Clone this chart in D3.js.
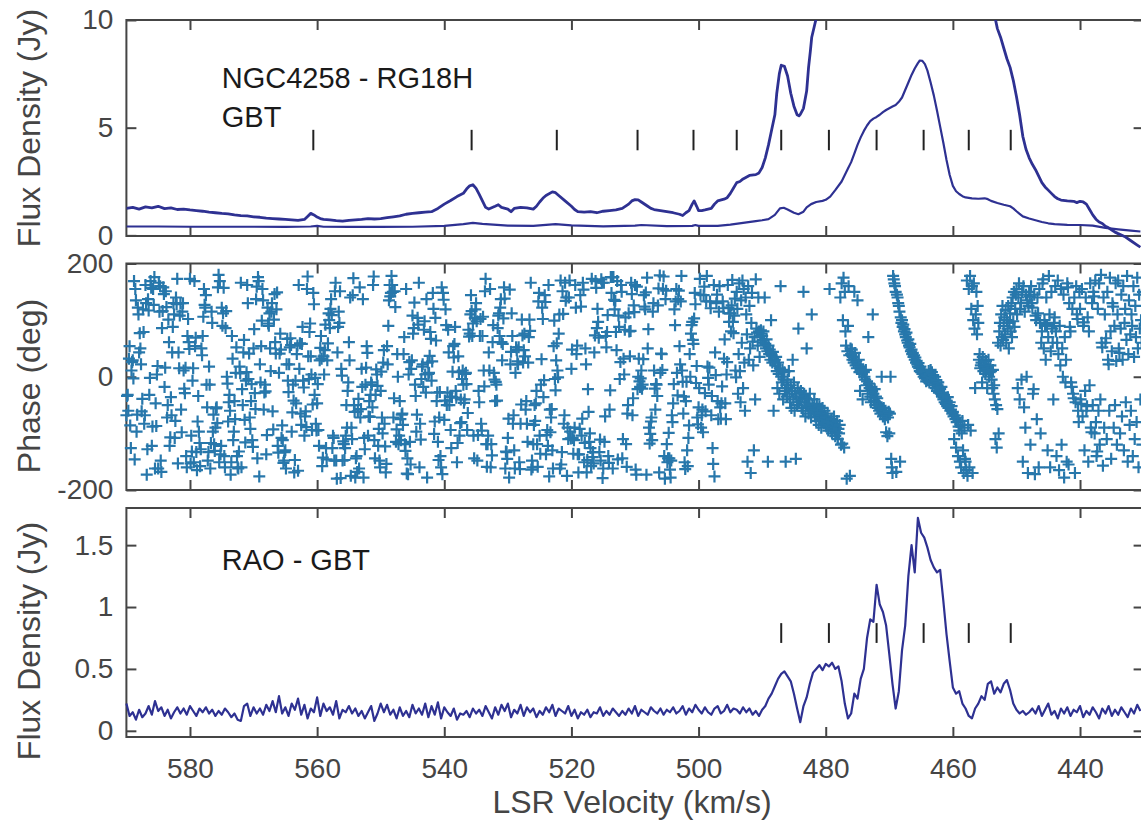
<!DOCTYPE html>
<html>
<head>
<meta charset="utf-8">
<script src="https://cdn.jsdelivr.net/npm/d3@7"></script>
<style>
  body { margin: 0; background: #fff; }
  svg { display: block; }
</style>
</head>
<body>
<script>
// ---- top panel: GBT total power spectrum and RG18H spectrum (velocity km/s, flux Jy)
const gbtVel = [590, 589, 588, 587, 586, 585, 584, 583, 582, 581, 580, 579, 578, 577, 576, 575, 574, 573, 572, 571,
  570, 569, 568, 567, 566, 565, 564, 563, 562, 561.5, 561, 560.5, 560, 559.5, 559, 558, 557, 556, 555, 554,
  553, 552, 551, 550, 549, 548, 547, 546, 545, 544, 543, 542, 541, 540, 539, 538, 537, 536.5, 536, 535.5,
  535, 534.5, 534, 533.5, 533, 532, 531.5, 531, 530, 529.5, 529, 528, 527, 526, 525.5, 525, 524.5, 524, 523, 522.5,
  522, 521, 520, 519.5, 519, 518, 517, 516, 515, 514, 513, 512, 511, 510.5, 510, 509.5, 509, 508, 507.5, 507,
  506, 505, 504, 503, 502.5, 502, 501.5, 501, 500.7, 500.3, 500, 499.5, 499, 498, 497.5, 497, 496, 495.5, 495, 494.5,
  494, 493.5, 493, 492, 491, 490.5, 490, 489.5, 489, 488.5, 488, 487.7, 487.3, 487, 486.5, 486, 485.5, 485, 484.5, 484.2,
  484, 483.5, 483, 482.7, 482.4, 482.2, 481.8, 481.4, 481, 480, 478, 476, 474, 472, 470, 468, 466, 464, 462, 460,
  458, 456, 454, 453.5, 453, 452.5, 452, 451.5, 451, 450.5, 450, 449.5, 449, 448.5, 448, 447.5, 447, 446.5, 446, 445.5,
  445, 444.5, 444, 443.5, 443, 442, 441, 440.5, 440, 439.5, 439, 438.5, 438, 437.5, 437, 436.5, 436, 435.5, 435, 434.5,
  434, 433, 432, 431, 430.5];
const gbtFlux = [1.25, 1.30, 1.22, 1.32, 1.28, 1.35, 1.24, 1.28, 1.20, 1.22, 1.18, 1.15, 1.12, 1.08, 1.05, 1.02, 1.00, 0.95, 0.92, 0.90,
  0.86, 0.84, 0.80, 0.78, 0.76, 0.74, 0.72, 0.70, 0.74, 0.88, 1.02, 0.95, 0.85, 0.78, 0.74, 0.72, 0.68, 0.66, 0.70, 0.72,
  0.74, 0.78, 0.76, 0.78, 0.82, 0.86, 0.90, 0.98, 1.02, 1.05, 1.08, 1.10, 1.25, 1.45, 1.62, 1.80, 1.95, 2.15, 2.30, 2.35,
  2.18, 1.90, 1.60, 1.30, 1.22, 1.35, 1.42, 1.30, 1.22, 1.10, 1.25, 1.30, 1.28, 1.22, 1.35, 1.55, 1.72, 1.85, 2.02, 1.98,
  1.85, 1.60, 1.35, 1.20, 1.10, 1.08, 1.10, 1.05, 1.12, 1.15, 1.18, 1.25, 1.45, 1.60, 1.66, 1.65, 1.55, 1.35, 1.25, 1.20,
  1.15, 1.10, 1.05, 0.98, 0.92, 1.05, 1.15, 1.45, 1.60, 1.35, 1.15, 1.15, 1.18, 1.25, 1.45, 1.60, 1.68, 1.75, 1.95, 2.20,
  2.45, 2.50, 2.62, 2.78, 2.82, 2.90, 3.15, 3.60, 4.20, 4.90, 5.60, 6.60, 7.50, 7.90, 7.85, 7.40, 6.60, 6.00, 5.60, 5.55,
  5.62, 5.90, 6.70, 7.80, 8.60, 9.20, 9.70, 10.2, 10.6, 11.5, 13, 15, 17, 19, 21, 22.5, 24, 24, 22, 19,
  16, 13, 11, 10.3, 9.6, 9.2, 8.7, 8.2, 7.8, 7.2, 6.45, 5.6, 4.6, 4.0, 3.6, 3.3, 3.05, 2.75, 2.45, 2.25,
  2.10, 1.95, 1.80, 1.70, 1.64, 1.60, 1.58, 1.52, 1.58, 1.55, 1.45, 1.20, 0.95, 0.75, 0.62, 0.55, 0.42, 0.35, 0.25, 0.15,
  0.08, -0.05, -0.25, -0.45, -0.55];

const rgVel = [590, 585, 580, 575, 570, 565, 561, 560, 559, 555, 550, 545, 540, 537, 535.5, 534, 530, 526, 522.5, 520,
  515, 510, 509, 505, 501, 500.5, 500, 497, 495, 493, 491, 490, 489, 488, 487.2, 486.6, 486, 485, 484.3, 483.5,
  483, 482.3, 481.5, 480.5, 480, 479.3, 478.5, 477.5, 477, 476.5, 476, 475.5, 475, 474.5, 474, 473.5, 473, 472.5, 472, 471.5,
  471, 470.5, 470, 469.5, 469, 468.5, 468, 467.5, 467, 466.5, 466, 465.5, 465.2, 464.8, 464.4, 464, 463.5, 463, 462.5, 462,
  461.5, 461, 460.5, 460, 459.5, 459, 458.5, 458, 457, 456, 455, 454.5, 454, 453, 452, 451, 450.5, 450, 449.5, 449,
  448, 447, 446, 445, 444, 442, 440, 438, 436, 434, 432, 430.5];
const rgFlux = [0.41, 0.41, 0.40, 0.40, 0.40, 0.39, 0.41, 0.44, 0.40, 0.39, 0.39, 0.40, 0.44, 0.52, 0.58, 0.53, 0.45, 0.44, 0.52, 0.46,
  0.42, 0.45, 0.48, 0.43, 0.44, 0.48, 0.44, 0.44, 0.50, 0.58, 0.66, 0.70, 0.75, 0.95, 1.25, 1.28, 1.20, 1.05, 0.98, 1.10,
  1.30, 1.45, 1.55, 1.60, 1.65, 1.80, 2.10, 2.50, 2.80, 3.10, 3.40, 3.80, 4.20, 4.55, 4.85, 5.10, 5.30, 5.42, 5.50, 5.60,
  5.72, 5.82, 5.90, 5.98, 6.05, 6.20, 6.40, 6.75, 7.10, 7.45, 7.75, 8.00, 8.12, 8.10, 7.95, 7.65, 7.10, 6.50, 5.80, 5.05,
  4.30, 3.50, 2.80, 2.30, 2.05, 1.92, 1.82, 1.76, 1.72, 1.70, 1.72, 1.68, 1.60, 1.50, 1.42, 1.35, 1.25, 1.12, 1.00, 0.88,
  0.78, 0.70, 0.62, 0.56, 0.52, 0.49, 0.48, 0.45, 0.35, 0.28, 0.22, 0.18];

// feature markers (km/s) drawn as short black bars
const markVel = [560.6, 535.7, 522.3, 509.6, 500.8, 494.0, 487.0, 479.5, 472.0, 464.6, 457.5, 450.9];
const markVelLow = [487.0, 479.5, 472.0, 464.6, 457.5, 450.9];
const markTopRange = [3.95, 4.9];
const markLowRange = [0.71, 0.87];

// ---- middle panel: phase (deg), one value per channel from 590 km/s in 0.1 km/s steps
const phaseStartVel = 590;
const phaseChanWidth = 0.1;
const phaseDeg = [
  -68, -34, -32, -60, 32, 54, -86, -126, 11, 26, 29, -3, 169, -146, 155, 135, -97, -67, 122, 110,
  43, 77, 50, 22, -61, -39, 119, 79, -83, -68, 162, 130, -173, -128, 137, 117, -32, -2, 169, 157,
  -122, -88, 155, 127, 176, -162, -47, -87, 4, 19, -162, 166, 115, 160, -148, -168, 86, 116, 158, 146,
  -18, 16, 151, 123, -72, -50, 101, 61, -122, -107, -36, -68, 43, 88, 130, 110, -108, -78, 140, 128,
  173, -153, 43, 15, 108, 130, -58, -98, 115, 130, 11, -21, -29, 16, -140, -160, 72, 102, 61, 49,
  173, -153, -104, -132, -7, 15, -151, 169, 54, 69, -133, -165, -79, -34, -97, -117, -158, -128, 50, 38,
  72, 106, 155, 127, 122, 144, -14, -54, -148, -133, 18, -14, -162, -117, 115, 95, -97, -67, -119, -131,
  -90, -56, -54, -82, 158, 180, -151, 169, -137, -122, 122, 90, 112, 157, -140, -160, 86, 116, 0, -12,
  -79, -45, -32, -60, -173, -151, 72, 32, -112, -97, -43, -75, 7, 52, -140, -160, -162, -132, 18, 6,
  166, -160, -22, -50, 43, 65, -76, -116, -7, 8, 162, 130, -4, 41, -72, -92, -43, -13, -112, -124,
  50, 84, -29, -57, 137, 159, -144, 176, 169, -176, 22, -10, 54, 99, 155, 135, -58, -28, -14, -26,
  -137, -103, 122, 94, 90, 112, 50, 10, 115, 130, -61, -93, 101, 146, 61, 41, 119, 149, -122, -134,
  7, 41, 76, 48, -108, -86, -112, -152, -148, -133, -130, -162, 22, 67, -7, -27, 22, 52, 68, 56,
  -97, -63, -14, -42, -169, -147, -7, -47, 40, 55, -166, 162, 14, 59, -65, -85, 58, 88, -7, -19,
  -104, -70, -61, -89, 155, 177, 36, -4, 79, 94, 36, 4, -94, -49, 148, 128, -32, -2, -83, -95,
  -47, -13, -94, -122, 29, 51, 72, 32, -158, -143, 36, 4, 47, 92, -126, -146, 29, 59, 112, 100,
  86, 120, 137, 109, -126, -104, -108, -148, 151, 166, -148, -180, 43, 88, 115, 95, 151, -179, 14, 2,
  -148, -114, -119, -147, -126, -104, -50, -90, -25, -10, 61, 29, 140, -175, -90, -110, 144, 174, -50, -62,
  -178, -144, -140, -168, -61, -39, -162, 158, -72, -57, 14, -18, 137, -178, -108, -128, -14, 16, 54, 42,
  -104, -70, -43, -71, -32, -10, -14, -54, 162, 177, -112, -144, -32, 13, 4, -16, -122, -92, -148, -160,
  -25, 9, -72, -100, 25, 47, -83, -123, -169, -154, 54, 22, 90, 135, 162, 142, 148, 178, 162, 150,
  -72, -38, 151, 123, -115, -93, 40, 0, -119, -104, -43, -75, -112, -67, -65, -85, 40, 70, -119, -131,
  155, -171, -144, -172, 4, 26, -115, -155, 14, 29, 108, 76, 86, 131, -14, -34, -97, -67, 104, 92,
  166, -160, -83, -111, -4, 18, 22, -18, 83, 98, 4, -28, 137, -178, 25, 5, 7, 37, 79, 67,
  -7, 27, 148, 120, -101, -79, 104, 64, -43, -28, -115, -147, -72, -27, -140, -160, 158, -172, 148, 136,
  -76, -42, 119, 91, -50, -28, 83, 43, -50, -35, -94, -126, -36, 9, 54, 34, 58, 88, -25, -37,
  -151, -117, 36, 8, -104, -82, -40, -80, -4, 11, -14, -46, -40, 5, 7, -13, -94, -64, 83, 71,
  76, 110, 144, 116, 72, 94, -104, -144, 104, 119, 130, 98, -148, -103, -25, -45, 72, 102, -83, -95,
  72, 106, 11, -17, 151, 173, -119, -159, -119, -104, 43, 11, 155, -160, -119, -139, 61, 91, 7, -5,
  -43, -9, -14, -42, 86, 108, 112, 72, 122, 137, 61, 29, 58, 103, 158, 138, -162, -132, -133, -145,
  -108, -74, -178, 154, 22, 44, 112, 72, -83, -68, -130, -162, 7, 52, 47, 27, 22, 52, -151, -163,
  -83, -49, 101, 73, 25, 47, 76, 36, -58, -43, -83, -115, 25, 70, 101, 81, 166, -164, -148, -160,
  -119, -85, -50, -78, -47, -25, -119, -159, 133, 148, -104, -136, -14, 31, 122, 102, -36, -6, 144, 132,
  -137, -103, -94, -122, 162, -176, -58, -98, -72, -57, -130, -162, 54, 99, -4, -24, 29, 59, 11, -1,
  76, 110, -162, 170, -155, -133, 151, 111, -83, -68, 166, 134, 140, -175, -90, -110, 140, 170, -97, -109,
  14, 48, -108, -136, -112, -90, 162, 122, 40, 55, -137, -169, -137, -92, 144, 124, -104, -74, 166, 154,
  -151, -117, 50, 22, -169, -147, -22, -62, -115, -100, -126, -158, 173, -142, -133, -153, 43, 73, 169, 157,
  86, 120, 97, 69, -133, -111, -148, 172, 166, -179, -162, 166, -115, -70, 72, 52, 79, 109, -140, -152,
  -58, -24, 176, 148, 176, -162, 176, 136, 119, 134, 79, 47, 169, -146, 108, 88, -4, 26, 162, 150,
  -144, -110, 32, 4, 83, 105, -119, -159, -65, -50, 112, 80, 36, 81, 166, 146, -68, -38, 126, 114,
  162, -164, -173, 159, -22, 0, 32, -8, -18, -3, 11, -21, -14, 31, 144, 124, 119, 149, -173, 175,
  50, 84, -90, -118, -101, -79, -72, -112, 115, 130, 11, -21, -58, -13, -14, -34, 126, 156, -169, 179,
  7, 41, 40, 12, 155, 177, -140, -180, 137, 152, -119, -151, -144, -99, -144, -164, -178, -148, -68, -80,
  -47, -13, 119, 91, 133, 155, 7, -33, 137, 152, 54, 22, 133, 178, 11, -9, -65, -35, -151, -163,
  -43, -9, -130, -158, -108, -86, 40, 0, 76, 91, 97, 65, 58, 103, 148, 128, -11, 19, -72, -84,
  -54, -20, 173, 145, -90, -68, -58, -98, 144, 159, -29, -61, 133, 178, 18, -2, -14, 16, 133, 121,
  -68, -34, -126, -154, 162, -176, 43, 3, 130, 145, -43, -75, 115, 160, -54, -74, -47, -17, 133, 121,
  32, 66, -47, -75, 4, 26, 162, 122, 97, 112, 112, 80, 126, 171, 97, 77, 108, 138, 11, -1,
  150, 120, -30, 40, 165, 10, -45, 135, 60, 170, -20, 155, 25, -60, 140, 110, 75, -150, 160, 30,
  125, 50, -170, 95, 148, 62, 20, -130, 70, -40, 172, 85, 78, 55, 140, 80, 35, 72, 82, 76,
  72, 65, 80, 60, 140, 58, 50, 66, 45, -150, 55, 40, 48, 30, 100, 38, 25, 44, -60, 28,
  30, 20, 35, 10, -20, 25, 5, -30, 15, 160, 0, -10, 12, -40, -5, 8, -25, -150, -15, -35,
  -5, -20, 10, -30, -45, -15, -55, -25, 30, -40, -10, -60, -30, -145, -35, -50, -20, 85, -45, -28,
  -40, -25, -55, -35, -60, 150, -30, -45, -70, -38, 50, -52, -40, -65, -48, -30, -58, -72, 110, -50,
  -55, -62, -40, -70, -58, -78, -48, -66, -60, -85, -52, -72, -64, -90, -68, -55, -75, -82, -60, -70,
  -72, -88, -78, -65, -95, -80, 155, -85, -92, -75, -100, -82, -88, -70, -95, -105, -90, -98, -78, -110,
  -92, -100, -85, 140, -120, 165, -118, 100, 175, -125, 150, 80, 55, -180, 45, 90, 160, 38, -175, 50,
  40, 48, 30, 35, 25, 150, 42, 20, 28, 15, 135, 22, 30, 8, -25, 18, 12, 5, -40, 10,
  8, 0, -5, 12, -15, -8, -30, 70, -12, -20, -35, -45, -18, -25, 110, -30, -42, -22, -50, -35,
  -45, -38, -55, -48, -60, -52, -65, -58, 0, -62, -70, -55, -66, -75, -60, -98, -68, -105, -72, -62,
  -100, -65, 0, -145, -160, -170, 178, 172, 165, 160, 150, -168, 145, 140, 130, 125, 115, -150, 105, 95,
  100, 88, 92, 80, 84, 75, 70, 78, 64, 60, 66, 55, 52, 58, 45, 48, 40, 42, 35, 38,
  30, 34, 25, 28, 22, 18, 24, 15, 10, 18, 8, 12, 5, 10, 0, 8, -3, 4, -8, 2,
  -5, 0, 10, -10, 5, 12, -2, 8, -15, 3, -8, -12, 0, -20, -6, -25, -15, -10, -28, -20,
  -22, -30, -18, -35, -28, -40, -32, -45, -38, -48, -42, -52, -36, -55, -50, -45, -60, -58, -52, -65,
  -62, -70, -110, -68, -75, -125, -80, -72, -140, -88, -95, -150, -85, -160, -100, -78, -130, -170, -90, -145,
  -150, -165, 170, -175, -85, 155, -160, 178, -95, 120, 160, -170, 100, 165, 85, -20, 110, 150, 75, 125,
  95, 30, 40, 15, 20, 25, -10, 35, 10, 18, 22, 5, 28, 12, -20, 15, 30, 0, 8, 20,
  10, -5, -20, 12, -30, -15, -40, -110, -50, -125, -57, 60, -100, 80, 95, 55, 110, 70, 125, 65,
  90, 105, 75, 118, 60, 100, 85, 125, 50, 95, 112, 80, 130, 70, 140, 98, 150, 88, 120, 145,
  155, 110, -20, 140, 165, -40, 120, 130, -5, 150, -150, 160, -54, 115, -90, 145, 0, 135, -170, 125,
  150, 142, -120, 160, 130, 122, -30, -22, 145, -172, 108, 100, -75, 140, 112, -160, 155, 95, -100, 60,
  80, 165, 172, 50, 100, 92, 30, 140, 90, -130, 70, 178, 110, -160, 45, 150, 85, 60, -40, 95,
  105, 160, 80, -140, 60, 170, 40, -165, 90, 20, 155, -120, 50, 0, 145, -178, 70, -10, 30, -150,
  165, 158, -155, 130, 88, 80, -10, -18, 120, -30, -38, 140, -170, -45, 160, 110, 102, -60, -80, 150,
  120, -40, -48, 155, -70, 90, 96, -130, -25, 140, -60, -52, 105, -150, 80, -15, 165, -90, -98, 130,
  -50, 150, 142, -100, 170, -80, -140, -132, 120, -60, 165, -120, -40, 180, 60, 52, -157, 140, -90, 110,
  60, 68, -110, 150, 30, 22, -60, 175, 80, -145, 45, 130, 124, -90, 90, -50, 165, 28, -120, 110,
  170, 50, 42, -100, 85, 145, -70, 30, 160, -130, 95, 120, -45, 65, 178, -150, 40, 135, -85, 75,
  -60, 110, 90, -140, 160, 35, -110, 125, 70, -80, 175, 50, -160, 145, 85, -40, 100, 60, -120, 150
];

// ---- bottom panel: RAO - GBT flux (Jy), channels from 590 km/s in 0.5 km/s steps
const raoStartVel = 590;
const raoChanWidth = 0.5;
const raoFlux = [
  0.22, 0.12, 0.15, 0.09, 0.17, 0.11, 0.14, 0.20, 0.13, 0.24, 0.16, 0.19,
  0.12, 0.17, 0.10, 0.15, 0.19, 0.14, 0.18, 0.13, 0.20, 0.16, 0.12, 0.18,
  0.15, 0.19, 0.14, 0.17, 0.12, 0.16, 0.13, 0.18, 0.15, 0.11, 0.14, 0.09,
  0.08, 0.20, 0.22, 0.12, 0.19, 0.14, 0.18, 0.13, 0.21, 0.16, 0.24, 0.15,
  0.28, 0.14, 0.19, 0.12, 0.22, 0.17, 0.26, 0.13, 0.21, 0.10, 0.18, 0.15,
  0.27, 0.12, 0.22, 0.16, 0.19, 0.13, 0.24, 0.10, 0.17, 0.15, 0.20, 0.14,
  0.18, 0.12, 0.16, 0.10, 0.15, 0.20, 0.08, 0.14, 0.22, 0.15, 0.21, 0.13,
  0.17, 0.10, 0.19, 0.12, 0.16, 0.11, 0.21, 0.14, 0.18, 0.13, 0.22, 0.11,
  0.20, 0.13, 0.23, 0.10, 0.19, 0.15, 0.12, 0.18, 0.09, 0.14, 0.13, 0.16,
  0.11, 0.18, 0.14, 0.17, 0.12, 0.20, 0.15, 0.10, 0.19, 0.13, 0.21, 0.16,
  0.22, 0.11, 0.17, 0.14, 0.21, 0.12, 0.19, 0.15, 0.18, 0.11, 0.16, 0.13,
  0.19, 0.15, 0.21, 0.12, 0.18, 0.16, 0.14, 0.20, 0.12, 0.17, 0.10, 0.15,
  0.13, 0.17, 0.11, 0.15, 0.14, 0.19, 0.12, 0.16, 0.13, 0.18, 0.15, 0.12,
  0.16, 0.13, 0.18, 0.14, 0.20, 0.12, 0.17, 0.15, 0.13, 0.19, 0.16, 0.14,
  0.18, 0.13, 0.17, 0.15, 0.19, 0.14, 0.16, 0.20, 0.13, 0.18, 0.15, 0.21,
  0.17, 0.14, 0.19, 0.15, 0.13, 0.18, 0.20, 0.14, 0.16, 0.21, 0.15, 0.18,
  // 494 .. 448 km/s
  0.17, 0.14, 0.19, 0.15, 0.18, 0.13, 0.16, 0.12, 0.17, 0.20,
  0.26, 0.30, 0.36, 0.42, 0.46, 0.48, 0.44, 0.40, 0.30, 0.18,
  0.07, 0.20, 0.27, 0.38, 0.47, 0.50, 0.53, 0.49, 0.54, 0.52,
  0.55, 0.50, 0.52, 0.40, 0.22, 0.10, 0.14, 0.30, 0.26, 0.42,
  0.50, 0.75, 0.90, 0.88, 1.18, 1.02, 0.96, 0.85, 0.62, 0.38,
  0.18, 0.32, 0.65, 0.85, 1.25, 1.50, 1.28, 1.72, 1.60, 1.56,
  1.48, 1.38, 1.32, 1.28, 1.30, 1.05, 0.78, 0.56, 0.35, 0.30,
  0.32, 0.22, 0.18, 0.12, 0.10, 0.18, 0.22, 0.28, 0.25, 0.38,
  0.40, 0.30, 0.35, 0.31, 0.38, 0.41, 0.33, 0.22, 0.17, 0.14,
  0.16, 0.13, 0.15,
  // 447.5 .. 430.5 km/s
  0.18, 0.14, 0.20, 0.12, 0.17, 0.22, 0.13, 0.16, 0.10, 0.18, 0.14, 0.19,
  0.12, 0.17, 0.15, 0.20, 0.11, 0.16, 0.13, 0.19, 0.15, 0.10, 0.18, 0.14,
  0.20, 0.12, 0.17, 0.13, 0.19, 0.15, 0.11, 0.18, 0.14, 0.21, 0.16
];

// ---- axis ticks and labels
const velTicks = [580, 560, 540, 520, 500, 480, 460, 440];
const fluxTopTicks = [0, 5, 10];
const phaseTicks = [-200, 0, 200];
const fluxLowTicks = [0, 0.5, 1, 1.5];

const width = 1141;
const height = 821;
const plotLeft = 126.4;
const plotRight = 1143.6;

const lineColor = "#2e3192";
const phaseColor = "#2777ab";
const axisColor = "#454545";

const svg = d3.select("body").append("svg")
    .attr("width", width)
    .attr("height", height)
    .attr("viewBox", [0, 0, width, height])
    .style("font-family", "'Liberation Sans', Arial, Helvetica, sans-serif");

const x = d3.scaleLinear().domain([590, 430]).range([plotLeft, plotRight]);

const panels = [
    { top: 20, bottom: 236, y: d3.scaleLinear().domain([-0.03, 10]).range([236, 20]), ticks: fluxTopTicks },
    { top: 263.5, bottom: 490, y: d3.scaleLinear().domain([-200, 200]).range([490, 263.5]), ticks: phaseTicks },
    { top: 508, bottom: 737, y: d3.scaleLinear().domain([-0.05, 1.8]).range([737, 508]), ticks: fluxLowTicks }
];

const defs = svg.append("defs");
defs.append("clipPath").attr("id", "clip-top")
    .append("rect")
    .attr("x", plotLeft).attr("y", panels[0].top)
    .attr("width", plotRight - plotLeft).attr("height", 232);

// Draw axes (box, inward ticks on all four sides)
panels.forEach((p, i) => {
    const g = svg.append("g");
    const isLast = i === panels.length - 1;

    g.append("g")
        .attr("transform", `translate(0,${p.bottom})`)
        .call(d3.axisBottom(x).tickValues(velTicks).tickSize(-10).tickPadding(21)
            .tickFormat(d => isLast ? String(d) : ""));
    g.append("g")
        .attr("transform", `translate(0,${p.top})`)
        .call(d3.axisTop(x).tickValues(velTicks).tickSize(-10).tickFormat(""));
    g.append("g")
        .attr("transform", `translate(${plotLeft},0)`)
        .call(d3.axisLeft(p.y).tickValues(p.ticks).tickSize(-10).tickPadding(13)
            .tickFormat(d => String(d)));
    g.append("g")
        .attr("transform", `translate(${plotRight},0)`)
        .call(d3.axisRight(p.y).tickValues(p.ticks).tickSize(-10).tickFormat(""));

    g.selectAll(".domain").remove();
    g.selectAll(".tick line").attr("stroke", axisColor).attr("stroke-width", 2);
    g.selectAll(".tick text").attr("fill", axisColor).attr("font-size", 28);

    g.append("rect")
        .attr("x", plotLeft).attr("y", p.top)
        .attr("width", plotRight - plotLeft).attr("height", p.bottom - p.top)
        .attr("fill", "none").attr("stroke", axisColor).attr("stroke-width", 2);
});

// Top panel spectra
const yTop = panels[0].y;
const lineTop = d3.line().x(d => x(d[0])).y(d => yTop(d[1]));
const topG = svg.append("g").attr("clip-path", "url(#clip-top)");
topG.append("path")
    .attr("d", lineTop(d3.zip(rgVel, rgFlux)))
    .attr("fill", "none").attr("stroke", lineColor).attr("stroke-width", 2.2)
    .attr("stroke-linejoin", "round");
topG.append("path")
    .attr("d", lineTop(d3.zip(gbtVel, gbtFlux)))
    .attr("fill", "none").attr("stroke", lineColor).attr("stroke-width", 2.8)
    .attr("stroke-linejoin", "round");

// feature markers
svg.append("g").selectAll("line")
    .data(markVel)
    .join("line")
    .attr("x1", d => x(d)).attr("x2", d => x(d))
    .attr("y1", yTop(markTopRange[0])).attr("y2", yTop(markTopRange[1]))
    .attr("stroke", "#222").attr("stroke-width", 2);

// Middle panel: phase scatter
const yPh = panels[1].y;
svg.append("g").selectAll("path")
    .data(phaseDeg)
    .join("path")
    .attr("transform", (d, i) => `translate(${x(phaseStartVel - i * phaseChanWidth)},${yPh(d)})`)
    .attr("d", "M-6,0H6M0,-6V6")
    .attr("stroke", phaseColor).attr("stroke-width", 2.2).attr("fill", "none");

// Bottom panel spectrum
const yLow = panels[2].y;
const lineLow = d3.line()
    .x((d, i) => x(raoStartVel - i * raoChanWidth))
    .y(d => yLow(d));
svg.append("path")
    .attr("d", lineLow(raoFlux))
    .attr("fill", "none").attr("stroke", lineColor).attr("stroke-width", 2.2)
    .attr("stroke-linejoin", "round");

svg.append("g").selectAll("line")
    .data(markVelLow)
    .join("line")
    .attr("x1", d => x(d)).attr("x2", d => x(d))
    .attr("y1", yLow(markLowRange[0])).attr("y2", yLow(markLowRange[1]))
    .attr("stroke", "#222").attr("stroke-width", 2);

// Labels
const note = (txt, v, yv, scale) => svg.append("text")
    .attr("x", x(v)).attr("y", scale(yv))
    .attr("font-size", 29).attr("fill", "#1a1a1a")
    .text(txt);
note("NGC4258 - RG18H", 575, 6.84, yTop);
note("GBT", 575, 5.03, yTop);
note("RAO - GBT", 575, 1.30, yLow);

const yTitle = (txt, cx, cy) => svg.append("text")
    .attr("transform", `translate(${cx},${cy}) rotate(-90)`)
    .attr("text-anchor", "middle")
    .attr("font-size", 32).attr("fill", axisColor)
    .text(txt);
yTitle("Flux Density (Jy)", 40, 128);
yTitle("Phase (deg)", 40, 386);
yTitle("Flux Density (Jy)", 40, 641);

svg.append("text")
    .attr("x", 632).attr("y", 813)
    .attr("text-anchor", "middle")
    .attr("font-size", 32).attr("fill", axisColor)
    .text("LSR Velocity (km/s)");
</script>
</body>
</html>
